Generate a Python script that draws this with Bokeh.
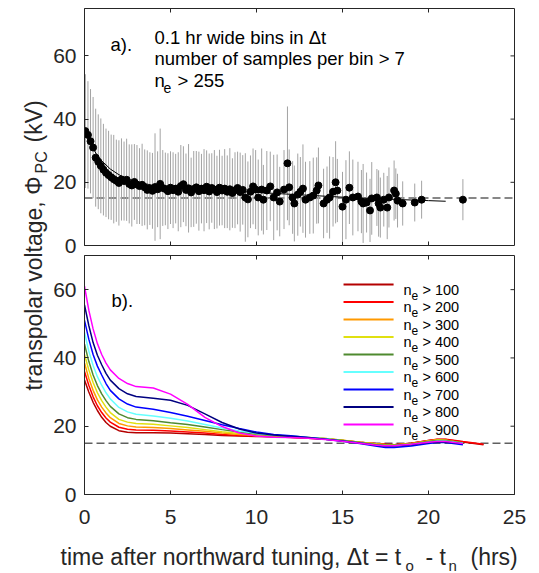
import numpy as np
from bokeh.plotting import figure
from bokeh.models import Range1d, FixedTicker, Span, Label, Arrow, ColumnDataSource
from bokeh.layouts import row, column
from bokeh.embed import file_html
from bokeh.resources import INLINE

FONT = "Liberation Sans"
INK = "#262626"

# ---------------- panel a) data: binned transpolar voltage ----------------
bin_t = [0.05, 0.2, 0.35, 0.5, 0.65, 0.8, 0.95, 1.1, 1.25, 1.4, 1.55, 1.7, 1.85, 2.0, 2.15,
         2.3, 2.45, 2.6, 2.75, 2.9, 3.05, 3.2, 3.35, 3.5, 3.65, 3.8, 3.95, 4.1, 4.25, 4.4,
         4.55, 4.7, 4.85, 5.0, 5.15, 5.3, 5.45, 5.6, 5.75, 5.9, 6.05, 6.2, 6.35, 6.5, 6.65,
         6.8, 6.95, 7.1, 7.25, 7.4, 7.55, 7.7, 7.85, 8.0, 8.15, 8.3, 8.45, 8.6, 8.75, 8.9,
         9.05, 9.2, 9.35, 9.5, 9.65, 9.8, 9.95,
         10.1, 10.3, 10.4, 10.6, 10.8, 11.0, 11.2, 11.35, 11.6, 11.8, 11.9, 12.1, 12.2, 12.4,
         12.55, 12.7, 12.85, 13.1, 13.3, 13.5, 13.6, 13.9, 14.1, 14.25, 14.45, 14.6, 14.7,
         15.0, 15.2, 15.4, 15.6, 15.9, 16.1, 16.2, 16.4, 16.6, 16.7, 17.0, 17.1, 17.2, 17.4,
         17.6, 17.7, 18.0, 18.1, 18.2, 18.5, 19.2, 19.6, 22.0]
bin_phi = [36.2, 35.0, 33.0, 31.0, 27.8, 26.5, 25.2, 24.0, 23.0, 22.3, 21.6, 21.0, 20.5, 19.8, 20.9,
           20.4, 20.8, 19.5, 19.0, 20.1, 19.3, 18.8, 19.2, 18.4, 17.6, 18.0, 17.3, 18.5, 17.8, 19.5,
           18.2, 17.9, 17.2, 18.3, 17.5, 18.0, 17.0, 18.8, 19.4, 17.6, 18.1, 16.8, 17.9, 18.4, 17.2,
           18.0, 17.5, 18.6, 17.1, 18.2, 17.7, 16.9, 18.3, 17.4, 18.0, 17.0, 17.8, 16.6, 17.5, 18.2,
           16.9, 17.6, 15.2, 14.6, 17.0, 18.7, 17.7,
           15.2, 17.7, 14.5, 17.4, 18.7, 15.2, 16.8, 13.9, 17.7, 26.0, 18.4, 15.2, 13.3, 16.1,
           17.0, 18.0, 14.5, 15.2, 15.8, 17.4, 19.0, 13.3, 14.5, 15.2, 17.0, 20.0, 17.4,
           12.3, 14.5, 18.3, 15.2, 15.5, 13.9, 13.3, 13.6, 11.1, 14.9, 15.2, 13.3, 12.0, 14.5,
           12.0, 15.2, 17.4, 16.4, 14.2, 13.3, 13.6, 14.5, 14.5]
bin_err = [18, 17, 16.5, 16, 15.5, 15, 15, 14.5, 14, 14, 13.5, 14, 13, 13.5, 13,
           12.5, 13, 12.5, 13, 12, 12.5, 12, 13, 12, 12.5, 11.5, 12, 17, 12, 17.5,
           12, 11.5, 12, 11.5, 12, 11, 12.5, 13, 12, 11.5, 14, 11, 12, 11.5, 12.5,
           11, 13, 11.5, 12, 11, 12.5, 11.5, 12, 11, 12.5, 11.5, 13, 11, 12, 11.5,
           12.5, 11, 14, 12, 11.5, 12, 12.5,
           12, 13, 11, 12.5, 11, 13.5, 12, 11, 12.5, 18, 12, 11.5, 12, 13,
           11, 14, 12, 11.5, 12, 10.5, 12, 11, 10.5, 13, 11, 13, 10,
           11, 12.5, 11.5, 12, 11, 10, 12.5, 9.5, 10, 11.5, 9, 10.5, 9.5, 8.5,
           10, 9.5, 9.5, 8, 8.5, 7, 6, 6, 6.5]

# fitted decay curve shown in panel a)
fit_t = [0, 0.25, 0.5, 0.75, 1, 1.5, 2, 2.5, 3, 4, 5, 6, 8, 10, 12, 14, 16, 18, 20, 21]
fit_phi = [36.5, 33.2, 30.6, 28.5, 26.8, 24.2, 22.4, 21.1, 20.2, 19.0, 18.4, 18.0, 17.4, 16.8,
           16.2, 15.6, 15.0, 14.6, 14.2, 14.0]

baseline_kv = 15

# ---------------- panel b) data: curves for different n_e thresholds ----------------
curve_t = [0, 0.25, 0.5, 0.75, 1, 1.25, 1.5, 2, 2.5, 3, 4, 5, 6, 7, 8, 9, 10, 11, 12, 13, 14,
           15, 16, 17, 17.5, 18, 19, 20, 20.5, 21, 22, 23.2]
ne_100 = [33.5, 30.0, 27.0, 24.6, 22.6, 21.1, 20.0, 18.7, 18.2, 18.1, 18.1, 18.0, 17.8, 17.6, 17.3,
          17.1, 17.0, 16.9, 16.7, 16.5, 16.2, 15.8, 15.3, 14.9, 14.7, 14.6, 15.0, 15.8, 16.1, 16.1,
          15.4, 14.6]
ne_200 = [36.0, 32.0, 28.6, 26.0, 24.0, 22.4, 21.2, 19.7, 19.1, 18.9, 18.8, 18.6, 18.3, 18.0, 17.6,
          17.3, 17.1, 16.9, 16.8, 16.5, 16.3, 15.8, 15.3, 14.9, 14.7, 14.6, 15.0, 15.8, 16.2, 16.2,
          15.5, 14.7]
ne_300 = [38.5, 34.0, 30.5, 27.7, 25.6, 23.9, 22.5, 20.8, 20.1, 19.8, 19.6, 19.3, 18.9, 18.5, 18.0,
          17.6, 17.3, 17.1, 16.9, 16.6, 16.4, 15.9, 15.3, 14.8, 14.6, 14.5, 14.9, 15.7, 16.0, 15.9,
          15.0]
ne_400 = [41.0, 36.5, 32.8, 29.8, 27.5, 25.6, 24.0, 22.0, 21.2, 20.8, 20.6, 20.1, 19.6, 19.0, 18.4,
          17.9, 17.5, 17.2, 17.0, 16.7, 16.4, 15.9, 15.3, 14.8, 14.6, 14.5, 14.9, 15.7, 16.0, 15.9,
          15.1]
ne_500 = [44.0, 39.0, 35.0, 31.9, 29.5, 27.5, 25.8, 23.6, 22.5, 22.0, 21.6, 21.0, 20.5, 19.8, 19.0,
          18.3, 17.7, 17.3, 17.1, 16.7, 16.3, 15.8, 15.2, 14.6, 14.4, 14.4, 14.8, 15.5, 15.8, 15.8,
          15.1]
ne_600 = [47.5, 42.0, 37.8, 34.5, 32.0, 29.8, 28.0, 25.5, 24.2, 23.5, 23.0, 22.3, 21.5, 20.5, 19.5,
          18.6, 17.9, 17.4, 17.1, 16.7, 16.3, 15.7, 15.1, 14.4, 14.2, 14.2, 14.6, 15.3, 15.6, 15.6,
          15.0]
ne_700 = [51.0, 45.5, 41.0, 37.6, 35.0, 32.5, 30.5, 28.0, 26.5, 25.6, 25.0, 24.0, 22.9, 21.7, 20.4,
          19.3, 18.3, 17.6, 17.2, 16.7, 16.2, 15.6, 14.9, 14.1, 13.8, 13.8, 14.2, 14.9, 15.2, 15.2,
          14.6]
ne_800 = [55.5, 49.5, 44.5, 40.8, 38.0, 35.5, 33.5, 31.0, 29.5, 28.7, 28.2, 27.6, 26.1, 23.6, 21.1,
          19.2, 18.0, 17.4, 17.0, 16.6, 16.2, 15.7, 15.1, 14.4, 14.2, 14.2, 14.6, 15.2, 15.4, 15.4,
          14.9]
ne_900 = [61.0, 54.0, 48.5, 44.2, 41.0, 38.5, 36.5, 34.0, 32.5, 31.6, 31.2, 29.4, 26.4, 22.6, 19.9,
          18.0, 17.1, 16.8, 16.7, 16.5, 16.1, 15.6, 15.0, 14.4, 14.3, 14.3, 14.7, 15.3, 15.5, 15.5,
          14.9]
thresholds = [100, 200, 300, 400, 500, 600, 700, 800, 900]
curves = [ne_100, ne_200, ne_300, ne_400, ne_500, ne_600, ne_700, ne_800, ne_900]
colors = ["#b40000", "#ff0000", "#ff9900", "#e0e010", "#4f8a2f", "#66ffff", "#0000ff", "#000080", "#ff00ff"]

x_ticks = [0, 5, 10, 15, 20, 25]
y_ticks = [0, 20, 40, 60]

X_END = 25
FRAME_W = 430
TICK_PX = 4
YLAB_W = 49
FIG_W = 539 - YLAB_W
XLAB_H = 37


def style_axis(ax, ticks, standoff):
    ax.ticker = FixedTicker(ticks=ticks)
    ax.major_tick_in = TICK_PX
    ax.major_tick_out = 0
    ax.minor_tick_in = 0
    ax.minor_tick_out = 0
    ax.axis_line_color = INK
    ax.major_tick_line_color = INK
    ax.major_label_text_font = FONT
    ax.major_label_text_color = INK
    ax.major_label_text_font_size = "21px"
    ax.major_label_standoff = standoff


def panel(height, y_end, frame_h, top_border, bottom_border, show_x):
    p = figure(width=FIG_W, height=height, x_range=Range1d(0, X_END), y_range=Range1d(0, y_end),
               output_backend="svg", toolbar_location=None,
               x_axis_type="linear" if show_x else None,
               min_border_left=FIG_W - FRAME_W - 25, min_border_right=25,
               min_border_top=top_border, min_border_bottom=bottom_border,
               outline_line_color=INK, background_fill_color="white", border_fill_color="white")
    p.grid.visible = False
    style_axis(p.left[0], y_ticks, 8)
    if show_x:
        style_axis(p.below[0], x_ticks, 15)
    # inward tick marks on the unlabelled box sides, taken from the tick lists
    tx = TICK_PX * X_END / FRAME_W
    ty = TICK_PX * y_end / frame_h
    xt = [v for v in x_ticks if 0 < v < X_END]
    yt = [v for v in y_ticks if 0 < v < y_end]
    p.segment(x0=xt, y0=[y_end] * len(xt), x1=xt, y1=[y_end - ty] * len(xt), line_color=INK, line_width=1)
    p.segment(x0=[X_END] * len(yt), y0=yt, x1=[X_END - tx] * len(yt), y1=yt, line_color=INK, line_width=1)
    if not show_x:
        p.segment(x0=xt, y0=[0] * len(xt), x1=xt, y1=[ty] * len(xt), line_color=INK, line_width=1)
    p.add_layout(Span(location=baseline_kv, dimension="width", line_color="#606060",
                      line_dash="8 4", line_width=1.5, level="underlay"))
    return p


def label(p, x, y, text, size, **kw):
    p.add_layout(Label(x=x, y=y, text=text, text_font=FONT, text_font_size=size,
                       text_color=kw.pop("color", "#000000"), text_baseline="alphabetic",
                       text_align=kw.pop("align", "left"), angle=kw.pop("angle", 0)))


def strip(width, height):
    s = figure(width=width, height=height, x_range=Range1d(0, width), y_range=Range1d(0, height),
               x_axis_type=None, y_axis_type=None, min_border=0, outline_line_color=None,
               output_backend="svg", toolbar_location=None)
    s.frame_align = False
    return s


# ---------------- top panel ----------------
top = panel(255, 75, 237, 8, 10, False)
phi = np.array(bin_phi)
err = np.array(bin_err)
src = ColumnDataSource(dict(t=bin_t, phi=bin_phi, lo=phi - err, hi=phi + err))
top.segment(x0="t", y0="lo", x1="t", y1="hi", source=src, line_color="#a3a3a3", line_width=1)
top.line(fit_t, fit_phi, line_color="#000000", line_width=1)
top.scatter("t", "phi", source=src, size=7, fill_color="#000000", line_color="#000000")

label(top, 1.51, 63.6, "a).", "18.5px")
label(top, 4.07, 65.8, "0.1 hr wide bins in \u0394t", "18.5px")
label(top, 4.07, 59.2, "number of samples per bin > 7", "18.5px")
label(top, 4.07, 52.2, "n", "18.5px")
label(top, 4.59, 50.0, "e", "14px")
label(top, 5.41, 52.2, "> 255", "18.5px")

# ---------------- bottom panel ----------------
bot = panel(573 - 255 - XLAB_H, 70, 239, 0, 42, True)
for vals, c in zip(curves, colors):
    bot.line(curve_t[:len(vals)], vals, line_color=c, line_width=1.5)

label(bot, 1.57, 56.8, "b).", "18.5px")
row0, step = 61.51, 5.126
for i, (thr, c) in enumerate(zip(thresholds, colors)):
    v = row0 - step * i
    bot.add_layout(Arrow(start=None, end=None, x_start=15.06, y_start=v, x_end=17.97, y_end=v,
                         line_color=c, line_width=2))
    label(bot, 18.55, v - 1.52, "n", "14.5px")
    label(bot, 19.01, v - 3.22, "e", "12px")
    label(bot, 19.65, v - 1.52, f"> {thr}", "14.5px")

# ---------------- x-axis title strip (pixel coordinates, origin at strip's bottom-left) ----------------
xlab = strip(FIG_W, XLAB_H)
x0 = YLAB_W
label(xlab, 60 - x0, 17, "time after northward tuning, \u0394t = t", "23px", color=INK)
label(xlab, 405 - x0, 8, "o", "15px", color=INK)
label(xlab, 425 - x0, 17, "- t", "23px", color=INK)
label(xlab, 448 - x0, 8, "n", "15px", color=INK)
label(xlab, 470 - x0, 17, "(hrs)", "23px", color=INK)

# ---------------- shared y-axis title (pixel coordinates) ----------------
ylab = strip(YLAB_W, 573)
label(ylab, 33, 397, "transpolar voltage, \u03a6", "23px", color=INK, align="right", angle=np.pi / 2)
label(ylab, 41, 400, "PC", "16px", color=INK, angle=np.pi / 2)
label(ylab, 33, 431, "(kV)", "23px", color=INK, angle=np.pi / 2)

layout = row(ylab, column(top, bot, xlab))
open("out.html", "w").write(file_html(layout, INLINE))
